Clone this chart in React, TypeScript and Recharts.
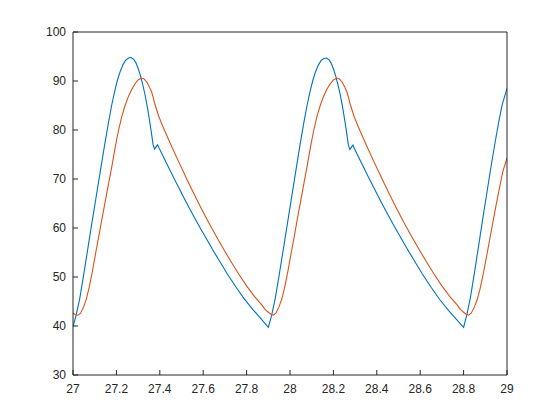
import React from 'react';
import { LineChart, Line, XAxis, YAxis } from 'recharts';

// time ticks and pressure ticks
const timeTicks = [27, 27.2, 27.4, 27.6, 27.8, 28, 28.2, 28.4, 28.6, 28.8, 29];
const valueTicks = [30, 40, 50, 60, 70, 80, 90, 100];

// blue trace, one beat per array
const blueBeat1 = [
  { t: 27.0, v: 39.8 }, { t: 27.015, v: 42.3 }, { t: 27.031, v: 45.6 }, { t: 27.05, v: 50.7 },
  { t: 27.069, v: 56.0 }, { t: 27.088, v: 61.3 }, { t: 27.108, v: 66.7 }, { t: 27.127, v: 71.9 },
  { t: 27.146, v: 77.0 }, { t: 27.163, v: 81.4 }, { t: 27.178, v: 85.0 }, { t: 27.192, v: 87.9 },
  { t: 27.205, v: 90.2 }, { t: 27.218, v: 92.0 }, { t: 27.231, v: 93.4 }, { t: 27.244, v: 94.3 },
  { t: 27.256, v: 94.7 }, { t: 27.268, v: 94.8 }, { t: 27.28, v: 94.4 }, { t: 27.29, v: 93.7 },
  { t: 27.3, v: 92.6 }, { t: 27.31, v: 91.2 }, { t: 27.32, v: 89.5 }, { t: 27.331, v: 87.4 },
  { t: 27.343, v: 84.6 }, { t: 27.354, v: 81.6 }, { t: 27.362, v: 79.2 }, { t: 27.369, v: 77.0 },
  { t: 27.376, v: 76.1 }, { t: 27.383, v: 76.6 }, { t: 27.39, v: 77.0 }, { t: 27.4, v: 76.0 },
  { t: 27.43, v: 73.3 }, { t: 27.46, v: 70.6 }, { t: 27.49, v: 68.0 }, { t: 27.52, v: 65.4 },
  { t: 27.55, v: 62.9 }, { t: 27.585, v: 60.1 }, { t: 27.62, v: 57.4 }, { t: 27.65, v: 55.1 },
  { t: 27.68, v: 52.9 }, { t: 27.71, v: 50.7 }, { t: 27.75, v: 48.0 }, { t: 27.79, v: 45.5 },
  { t: 27.83, v: 43.3 }, { t: 27.86, v: 41.8 },
];
const blueBeat2 = [
  { t: 27.9, v: 39.7 }, { t: 27.915, v: 42.1 }, { t: 27.931, v: 45.4 }, { t: 27.95, v: 50.4 },
  { t: 27.969, v: 55.6 }, { t: 27.988, v: 60.9 }, { t: 28.008, v: 66.4 }, { t: 28.027, v: 71.7 },
  { t: 28.046, v: 76.9 }, { t: 28.063, v: 81.3 }, { t: 28.078, v: 84.9 }, { t: 28.092, v: 87.8 },
  { t: 28.105, v: 90.1 }, { t: 28.118, v: 91.9 }, { t: 28.131, v: 93.3 }, { t: 28.144, v: 94.2 },
  { t: 28.156, v: 94.6 }, { t: 28.168, v: 94.7 }, { t: 28.18, v: 94.3 }, { t: 28.19, v: 93.6 },
  { t: 28.2, v: 92.5 }, { t: 28.21, v: 91.1 }, { t: 28.22, v: 89.4 }, { t: 28.231, v: 87.3 },
  { t: 28.243, v: 84.5 }, { t: 28.254, v: 81.5 }, { t: 28.262, v: 79.1 }, { t: 28.269, v: 76.9 },
  { t: 28.276, v: 76.0 }, { t: 28.283, v: 76.5 }, { t: 28.29, v: 76.9 }, { t: 28.3, v: 75.9 },
  { t: 28.33, v: 73.2 }, { t: 28.36, v: 70.5 }, { t: 28.39, v: 67.9 }, { t: 28.42, v: 65.3 },
  { t: 28.45, v: 62.8 }, { t: 28.485, v: 60.0 }, { t: 28.52, v: 57.3 }, { t: 28.55, v: 55.0 },
  { t: 28.58, v: 52.8 }, { t: 28.61, v: 50.6 }, { t: 28.65, v: 47.9 }, { t: 28.69, v: 45.4 },
  { t: 28.73, v: 43.2 }, { t: 28.76, v: 41.7 },
];
const blueBeat3 = [
  { t: 28.8, v: 39.7 }, { t: 28.815, v: 42.3 }, { t: 28.831, v: 45.7 }, { t: 28.85, v: 50.9 },
  { t: 28.869, v: 56.3 }, { t: 28.888, v: 61.8 }, { t: 28.908, v: 67.4 }, { t: 28.927, v: 72.7 },
  { t: 28.946, v: 77.7 }, { t: 28.963, v: 81.9 }, { t: 28.978, v: 85.2 }, { t: 29.0, v: 88.5 },
];

// orange trace, one beat per array
const redBeat1 = [
  { t: 27.0, v: 42.6 }, { t: 27.012, v: 42.3 }, { t: 27.023, v: 42.2 }, { t: 27.035, v: 42.6 },
  { t: 27.05, v: 44.0 }, { t: 27.062, v: 45.6 }, { t: 27.075, v: 48.0 }, { t: 27.09, v: 51.3 },
  { t: 27.105, v: 55.0 }, { t: 27.12, v: 58.6 }, { t: 27.135, v: 62.2 }, { t: 27.15, v: 65.8 },
  { t: 27.165, v: 69.3 }, { t: 27.18, v: 72.8 }, { t: 27.195, v: 76.6 }, { t: 27.21, v: 80.0 },
  { t: 27.225, v: 82.8 }, { t: 27.24, v: 85.0 }, { t: 27.255, v: 86.8 }, { t: 27.27, v: 88.2 },
  { t: 27.285, v: 89.4 }, { t: 27.3, v: 90.2 }, { t: 27.316, v: 90.6 }, { t: 27.328, v: 90.4 },
  { t: 27.34, v: 89.8 }, { t: 27.352, v: 88.8 }, { t: 27.362, v: 87.8 }, { t: 27.37, v: 86.6 },
  { t: 27.377, v: 85.3 }, { t: 27.395, v: 82.8 }, { t: 27.415, v: 80.6 }, { t: 27.45, v: 77.1 },
  { t: 27.485, v: 73.7 }, { t: 27.52, v: 70.4 }, { t: 27.555, v: 67.2 }, { t: 27.59, v: 64.1 },
  { t: 27.625, v: 61.1 }, { t: 27.66, v: 58.3 }, { t: 27.695, v: 55.6 }, { t: 27.73, v: 53.0 },
  { t: 27.765, v: 50.5 }, { t: 27.8, v: 48.2 }, { t: 27.835, v: 46.1 }, { t: 27.87, v: 44.3 },
  { t: 27.885, v: 43.4 },
];
const redBeat2 = [
  { t: 27.9, v: 42.8 }, { t: 27.912, v: 42.4 }, { t: 27.923, v: 42.2 }, { t: 27.935, v: 42.6 },
  { t: 27.95, v: 44.0 }, { t: 27.962, v: 45.5 }, { t: 27.975, v: 47.8 }, { t: 27.99, v: 51.1 },
  { t: 28.005, v: 54.8 }, { t: 28.02, v: 58.4 }, { t: 28.035, v: 62.1 }, { t: 28.05, v: 65.7 },
  { t: 28.065, v: 69.3 }, { t: 28.08, v: 72.9 }, { t: 28.095, v: 76.7 }, { t: 28.11, v: 80.1 },
  { t: 28.125, v: 82.9 }, { t: 28.14, v: 85.1 }, { t: 28.155, v: 86.9 }, { t: 28.17, v: 88.3 },
  { t: 28.185, v: 89.4 }, { t: 28.2, v: 90.2 }, { t: 28.216, v: 90.6 }, { t: 28.228, v: 90.4 },
  { t: 28.24, v: 89.8 }, { t: 28.252, v: 88.8 }, { t: 28.262, v: 87.8 }, { t: 28.27, v: 86.6 },
  { t: 28.277, v: 85.3 }, { t: 28.295, v: 82.8 }, { t: 28.315, v: 80.6 }, { t: 28.35, v: 77.1 },
  { t: 28.385, v: 73.7 }, { t: 28.42, v: 70.4 }, { t: 28.455, v: 67.2 }, { t: 28.49, v: 64.1 },
  { t: 28.525, v: 61.1 }, { t: 28.56, v: 58.3 }, { t: 28.595, v: 55.6 }, { t: 28.63, v: 53.0 },
  { t: 28.665, v: 50.5 }, { t: 28.7, v: 48.2 }, { t: 28.735, v: 46.1 }, { t: 28.77, v: 44.3 },
  { t: 28.785, v: 43.4 },
];
const redBeat3 = [
  { t: 28.8, v: 42.8 }, { t: 28.812, v: 42.4 }, { t: 28.823, v: 42.2 }, { t: 28.835, v: 42.6 },
  { t: 28.85, v: 43.9 }, { t: 28.862, v: 45.3 }, { t: 28.875, v: 47.4 }, { t: 28.89, v: 50.5 },
  { t: 28.905, v: 54.0 }, { t: 28.92, v: 57.6 }, { t: 28.935, v: 61.2 }, { t: 28.95, v: 64.7 },
  { t: 28.965, v: 68.1 }, { t: 28.98, v: 71.4 }, { t: 29.0, v: 74.3 },
];

const blueData = [...blueBeat1, ...blueBeat2, ...blueBeat3];
const redData = [...redBeat1, ...redBeat2, ...redBeat3];

const axisColor = '#262626';
const tickStyle = { fill: axisColor, fontSize: 12, fontFamily: '"Liberation Sans", Arial, sans-serif' };

const App: React.FC = () => {
  return (
    <div style={{ position: 'absolute', left: 0, top: 0, width: 560, height: 420, background: '#fff' }}>
      <LineChart width={560} height={420} margin={{ top: 31, right: 52, bottom: 15, left: 33 }}>
        {/* bottom and left carry the labels; top and right only close the box */}
        <XAxis
          xAxisId="b"
          type="number"
          dataKey="t"
          domain={[27, 29]}
          ticks={timeTicks}
          interval={0}
          allowDataOverflow
          height={30}
          tickSize={-5}
          tickMargin={14}
          tick={tickStyle}
          stroke={axisColor}
        />
        <XAxis
          xAxisId="t"
          orientation="top"
          type="number"
          dataKey="t"
          domain={[27, 29]}
          ticks={timeTicks}
          interval={0}
          allowDataOverflow
          height={1}
          tickSize={-5}
          tick={false}
          stroke={axisColor}
        />
        <YAxis
          yAxisId="l"
          type="number"
          domain={[30, 100]}
          ticks={valueTicks}
          interval={0}
          allowDataOverflow
          width={40}
          tickSize={-5}
          tickMargin={12}
          tick={tickStyle}
          stroke={axisColor}
        />
        <YAxis
          yAxisId="r"
          orientation="right"
          type="number"
          domain={[30, 100]}
          ticks={valueTicks}
          interval={0}
          allowDataOverflow
          width={1}
          tickSize={-5}
          tick={false}
          stroke={axisColor}
        />
        <Line
          xAxisId="b"
          yAxisId="l"
          data={blueData}
          dataKey="v"
          type="linear"
          stroke="#0072BD"
          strokeWidth={1.1}
          dot={false}
          isAnimationActive={false}
        />
        <Line
          xAxisId="t"
          yAxisId="r"
          data={redData}
          dataKey="v"
          type="linear"
          stroke="#D95319"
          strokeWidth={1.1}
          dot={false}
          isAnimationActive={false}
        />
      </LineChart>
    </div>
  );
};

export default App;
